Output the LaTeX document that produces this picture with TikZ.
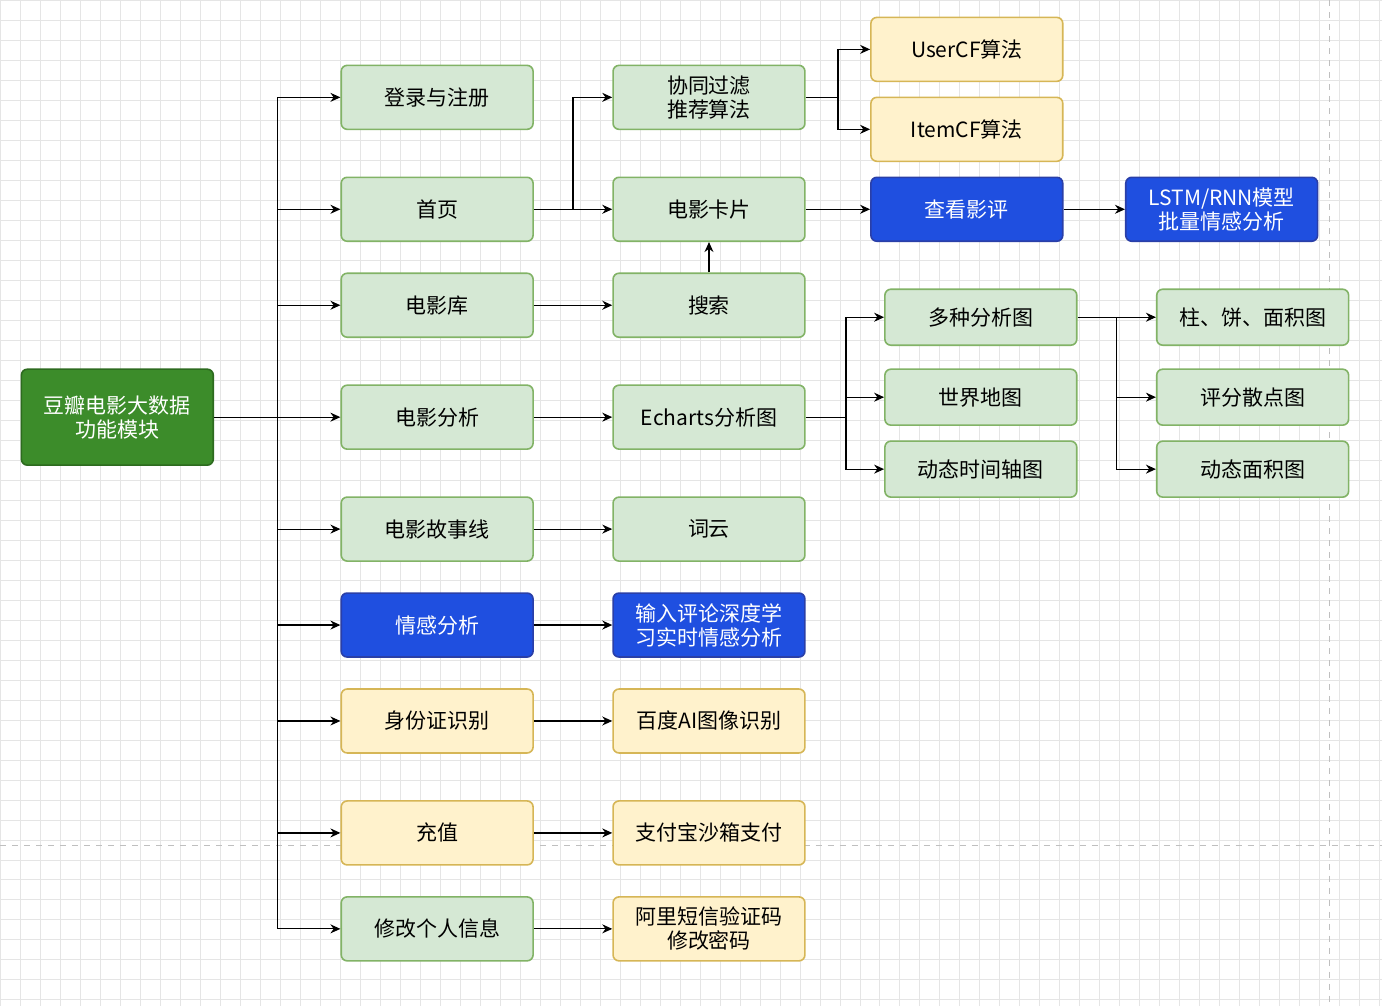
\documentclass[tikz,border=0pt]{standalone}
\usepackage{fontspec}
\setmainfont{Noto Sans CJK SC}
\usetikzlibrary{arrows.meta,calc}
\definecolor{gfill}{HTML}{D5E8D4}
\definecolor{gline}{HTML}{82B366}
\definecolor{yfill}{HTML}{FFF2CC}
\definecolor{yline}{HTML}{D6B656}
\definecolor{bfill}{HTML}{1F4FE0}
\definecolor{bline}{HTML}{2A3FA8}
\definecolor{rfill}{HTML}{3C8C2A}
\definecolor{rline}{HTML}{2D6B1F}
\tikzset{
    >={Stealth[length=5pt,width=4.5pt]},
    box/.style={draw,rounded corners=3pt,thick,align=center,minimum width=96pt,minimum height=32pt,font=\fontsize{10.5}{12}\selectfont,inner sep=1pt},
    gbox/.style={box,fill=gfill,draw=gline},
    ybox/.style={box,fill=yfill,draw=yline},
    bbox/.style={box,fill=bfill,draw=bline,text=white},
    flow/.style={->,line width=0.6pt,black},
}
\begin{document}
\begin{tikzpicture}[x=0.5pt,y=-0.5pt]
    \fill[white] (0,0) rectangle (1382,1006);
    \draw[black!10,step=10pt] (0,0) grid (1382,1006);
    \draw[black!25,dashed] (1330,0) -- (1330,1006);
    \draw[black!25,dashed] (0,845) -- (1382,845);

    % root
    \node[box,fill=rfill,draw=rline,text=white,minimum height=48pt] (root) at (117,417) {豆瓣电影大数据\\功能模块};

    % second column
    \node[gbox] (login) at (437,97) {登录与注册};
    \node[gbox] (home) at (437,209) {首页};
    \node[gbox] (lib) at (437,305) {电影库};
    \node[gbox] (ana) at (437,417) {电影分析};
    \node[gbox] (story) at (437,529) {电影故事线};
    \node[bbox] (senti) at (437,625) {情感分析};
    \node[ybox] (idcard) at (437,721) {身份证识别};
    \node[ybox] (pay) at (437,833) {充值};
    \node[gbox] (info) at (437,929) {修改个人信息};

    % third column
    \node[gbox] (cf) at (709,97) {协同过滤\\推荐算法};
    \node[gbox] (card) at (709,209) {电影卡片};
    \node[gbox] (search) at (709,305) {搜索};
    \node[gbox] (echarts) at (709,417) {Echarts分析图};
    \node[gbox] (cloud) at (709,529) {词云};
    \node[bbox] (deep) at (709,625) {输入评论深度学\\习实时情感分析};
    \node[ybox] (baidu) at (709,721) {百度AI图像识别};
    \node[ybox] (alipay) at (709,833) {支付宝沙箱支付};
    \node[ybox] (sms) at (709,929) {阿里短信验证码\\修改密码};

    % fourth column
    \node[ybox] (user) at (967,49) {UserCF算法};
    \node[ybox] (item) at (967,129) {ItemCF算法};
    \node[bbox] (review) at (967,209) {查看影评};
    \node[bbox] (lstm) at (1222,209) {LSTM/RNN模型\\批量情感分析};
    \node[gbox,minimum height=28pt] (multi) at (981,317) {多种分析图};
    \node[gbox,minimum height=28pt] (world) at (981,397) {世界地图};
    \node[gbox,minimum height=28pt] (timeline) at (981,469) {动态时间轴图};
    \node[gbox,minimum height=28pt] (bar) at (1253,317) {柱、饼、面积图};
    \node[gbox,minimum height=28pt] (scatter) at (1253,397) {评分散点图};
    \node[gbox,minimum height=28pt] (area) at (1253,469) {动态面积图};

    % trunk
    \draw[line width=0.6pt] (root.east) -- (277,417);
    \draw[line width=0.6pt] (277,97) -- (277,929);
    \foreach \n in {login,home,lib,ana,story,senti,idcard,pay,info}
        \draw[flow] (277,0 |- \n.west) -- (\n.west);

    % second to third column
    \foreach \a/\b in {home/card,lib/search,ana/echarts,story/cloud,senti/deep,idcard/baidu,pay/alipay,info/sms}
        \draw[flow] (\a.east) -- (\b.west);
    \draw[flow] (573,209) |- (cf.west);
    \draw[flow] (search.north) -- (card.south);

    % further branches
    \draw[flow] (cf.east) -| (838,49) -- (user.west);
    \draw[flow] (838,97) |- (item.west);
    \draw[flow] (card.east) -- (review.west);
    \draw[flow] (review.east) -- (lstm.west);
    \draw[flow] (echarts.east) -| (846,317) -- (multi.west);
    \draw[flow] (846,417) |- (world.west);
    \draw[flow] (846,417) |- (timeline.west);
    \draw[flow] (multi.east) -| (1117,317) -- (bar.west);
    \draw[flow] (1117,317) |- (scatter.west);
    \draw[flow] (1117,317) |- (area.west);
\end{tikzpicture}
\end{document}
